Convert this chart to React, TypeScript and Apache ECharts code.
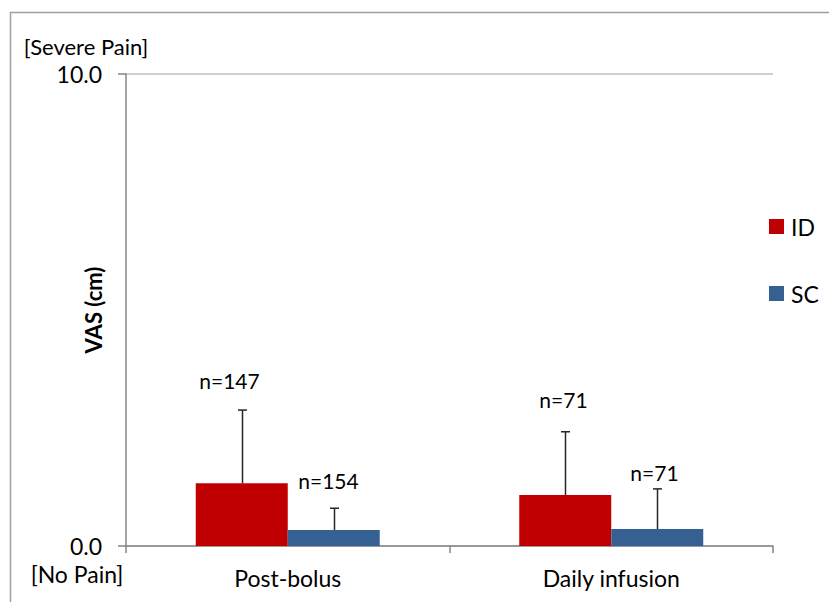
import React, { useEffect, useRef } from "react";
import * as echarts from "echarts";

const categories = ["Post-bolus", "Daily infusion"];
const idMeans = [1.33, 1.08];
const idErr = [1.55, 1.34];
const scMeans = [0.34, 0.36];
const scErr = [0.46, 0.85];
const idN = ["n=147", "n=71"];
const scN = ["n=154", "n=71"];
const yTickLabels = [0, 10];

const FONT = "Lato";
const RED = "#C00000";
const BLUE = "#376092";
const BAR_W = 92;
const labelLift = { ID: [30, 32], SC: [28, 16] };
const labelShift = { ID: [-13, -2], SC: [-6, -3] };

function errorSeries(name: string, means: number[], errs: number[], labels: string[], side: number, lifts: number[], shifts: number[]) {
  return {
    type: "custom",
    name: name + "-err",
    silent: true,
    z: 5,
    data: means.map((m, i) => [i, m, errs[i]]),
    renderItem: (params: any, api: any) => {
      const i = api.value(0);
      const m = api.value(1);
      const e = api.value(2);
      const base = api.coord([i, m]);
      const top = api.coord([i, m + e]);
      const x = Math.round(base[0] + (side * BAR_W) / 2) + 0.5;
      const lift = lifts[params.dataIndex];
      return {
        type: "group",
        children: [
          { type: "line", shape: { x1: x, y1: base[1], x2: x, y2: top[1] }, style: { stroke: "#262626", lineWidth: 1.5 } },
          { type: "line", shape: { x1: x - 4.5, y1: top[1], x2: x + 4.5, y2: top[1] }, style: { stroke: "#262626", lineWidth: 1.5 } },
          {
            type: "text",
            style: {
              text: labels[params.dataIndex],
              x: x + shifts[params.dataIndex],
              y: top[1] - lift,
              align: "center",
              verticalAlign: "middle",
              fontFamily: FONT,
              fontSize: 21,
              fill: "#000",
            },
          },
        ],
      };
    },
  };
}

export default function App() {
  const ref = useRef<HTMLDivElement>(null);
  useEffect(() => {
    const chart = echarts.init(ref.current!, null, { renderer: "svg" });
    chart.setOption({
      animation: false,
      backgroundColor: "#fff",
      textStyle: { fontFamily: FONT },
      grid: { left: 126, right: 56, top: 74, bottom: 56, containLabel: false },
      legend: {
        data: ["ID", "SC"],
        orient: "vertical",
        left: 769,
        top: 215,
        padding: 0,
        icon: "rect",
        itemWidth: 15,
        itemHeight: 15,
        itemGap: 44,
        textStyle: { fontFamily: FONT, fontSize: 23, color: "#000", padding: [0, 0, 0, 2], lineHeight: 20 },
        selectedMode: false,
      },
      xAxis: {
        type: "category",
        data: categories,
        axisLine: { lineStyle: { color: "#868686", width: 1.5 } },
        axisTick: { show: true, length: 7, lineStyle: { color: "#868686", width: 1.5 } },
        axisLabel: { color: "#000", fontSize: 23, fontFamily: FONT, margin: 20 },
      },
      yAxis: {
        type: "value",
        min: 0,
        max: 10,
        interval: 2.5,
        axisLine: { show: true, lineStyle: { color: "#868686", width: 1.5 } },
        axisTick: { show: true, length: 8, customValues: yTickLabels, lineStyle: { color: "#868686", width: 1.5 } },
        axisLabel: {
          customValues: yTickLabels,
          formatter: (v: number) => v.toFixed(1),
          color: "#000",
          fontSize: 23,
          fontFamily: FONT,
          margin: 24,
          lineHeight: 20,
        },
        splitLine: { show: true, lineStyle: { color: "#c0c0c0", width: 1.5 } },
      },
      graphic: [
        {
          type: "rect",
          shape: { x: 10.5, y: 12.5, width: 900, height: 700 },
          style: { fill: "none", stroke: "#a0a0a0", lineWidth: 1.5 },
          silent: true,
          z: -1,
        },
        {
          type: "text",
          x: 86,
          y: 46,
          style: { text: "[Severe Pain]", align: "center", verticalAlign: "middle", fontFamily: FONT, fontSize: 22, lineHeight: 18, fill: "#000" },
        },
        {
          type: "text",
          x: 77,
          y: 574,
          style: { text: "[No Pain]", align: "center", verticalAlign: "middle", fontFamily: FONT, fontSize: 23, lineHeight: 20, fill: "#000" },
        },
        {
          type: "text",
          x: 93,
          y: 310,
          rotation: Math.PI / 2,
          style: { text: "VAS (cm)", align: "center", verticalAlign: "middle", fontFamily: FONT, fontSize: 22, fontWeight: "bold", fill: "#000" },
        },
      ],
      series: [
        { name: "ID", type: "bar", data: idMeans, barWidth: BAR_W, barGap: "0%", itemStyle: { color: RED } },
        { name: "SC", type: "bar", data: scMeans, barWidth: BAR_W, barGap: "0%", itemStyle: { color: BLUE } },
        errorSeries("ID", idMeans, idErr, idN, -1, labelLift.ID, labelShift.ID),
        errorSeries("SC", scMeans, scErr, scN, 1, labelLift.SC, labelShift.SC),
      ],
    });
    return () => chart.dispose();
  }, []);
  return <div ref={ref} style={{ width: 829, height: 602, position: "absolute", left: 0, top: 0 }} />;
}
